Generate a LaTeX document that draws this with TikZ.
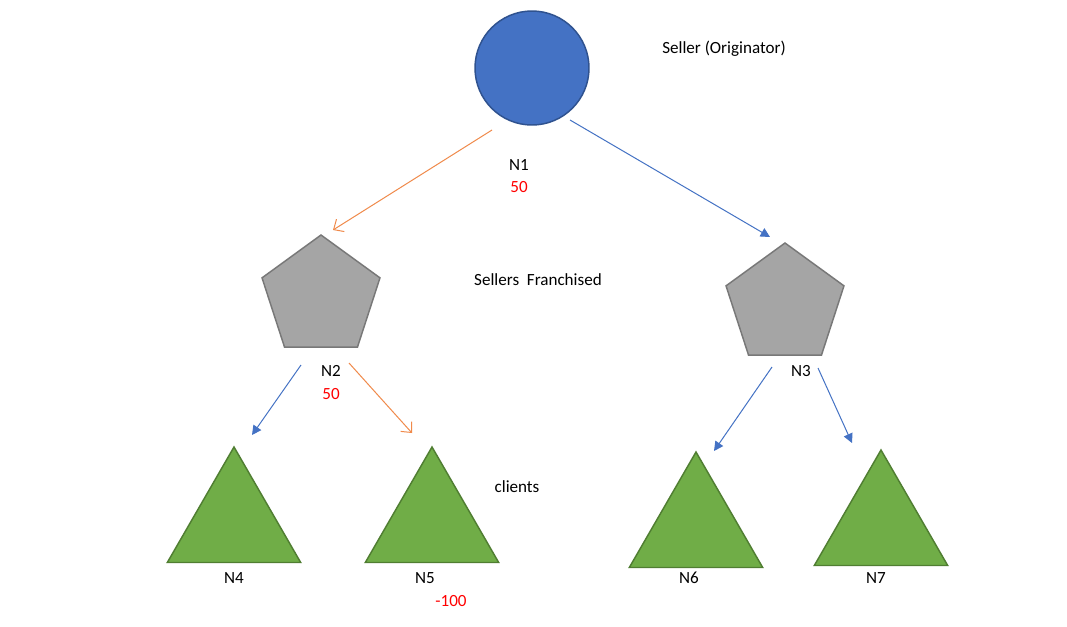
\documentclass[tikz,border=0pt]{standalone}
\usepackage{fontspec}
\setmainfont{Carlito}
\usetikzlibrary{shapes.geometric,arrows.meta}
\definecolor{cblue}{HTML}{4472C4}
\definecolor{cbluedark}{HTML}{2F528F}
\definecolor{cgray}{HTML}{A5A5A5}
\definecolor{cgraydark}{HTML}{787878}
\definecolor{cgreen}{HTML}{70AD47}
\definecolor{cgreendark}{HTML}{507E32}
\definecolor{corange}{HTML}{F08A4B}
\begin{document}
\begin{tikzpicture}[x=0.75pt,y=-0.75pt,
  every node/.style={font=\fontsize{12.8}{15}\selectfont, inner sep=0pt},
  seller/.style={circle, fill=cblue, draw=cbluedark, line width=1.1pt, minimum size=85.5pt},
  franch/.style={regular polygon, regular polygon sides=5, fill=cgray, draw=cgraydark, line width=1.1pt, minimum size=93pt},
  client/.style={regular polygon, regular polygon sides=3, fill=cgreen, draw=cgreendark, line width=1.1pt, minimum size=115.5pt},
  oarrow/.style={draw=corange, line width=0.75pt, -{Straight Barb[length=6pt,width=11pt]}},
  barrow/.style={draw=cblue, line width=0.75pt, -{Triangle[length=7pt,width=7pt]}},
  lbl/.style={text=black},
  val/.style={text=red}]
\useasboundingbox (0,0) rectangle (1067,626);
\fill[white] (0,0) rectangle (1067,626);

\node[seller] (n1) at (532,68) {};
\node[franch] (n2) at (321,297) {};
\node[franch] (n3) at (785,305) {};
\node[client] (n4) at (234,524) {};
\node[client] (n5) at (432,524) {};
\node[client] (n6) at (696,529) {};
\node[client] (n7) at (881,527) {};

\coordinate (a1s) at (492,130); \coordinate (a1e) at (333,230);
\coordinate (a2s) at (570,120); \coordinate (a2e) at (770,237);
\coordinate (a3s) at (301,365); \coordinate (a3e) at (252,435);
\coordinate (a4s) at (349,363); \coordinate (a4e) at (412,433);
\coordinate (a5s) at (772,367); \coordinate (a5e) at (714,451);
\coordinate (a6s) at (818,368); \coordinate (a6e) at (852,443);

\draw[oarrow] (a1s) -- (a1e);
\draw[barrow] (a2s) -- (a2e);
\draw[barrow] (a3s) -- (a3e);
\draw[oarrow] (a4s) -- (a4e);
\draw[barrow] (a5s) -- (a5e);
\draw[barrow] (a6s) -- (a6e);

\node[lbl] (t1) at (724,49) {Seller (Originator)};
\node[lbl] (l1) at (519,165) {N1};
\node[val] (v1) at (519,187) {50};
\node[lbl] (t2) at (538,280) {Sellers\ \ Franchised};
\node[lbl] (l2) at (331,371) {N2};
\node[val] (v2) at (331,394) {50};
\node[lbl] (l3) at (801,371) {N3};
\node[lbl] (t3) at (517,487) {clients};
\node[lbl] (l4) at (234,578) {N4};
\node[lbl] (l5) at (425,578) {N5};
\node[val] (v5) at (451,601) {-100};
\node[lbl] (l6) at (689,578) {N6};
\node[lbl] (l7) at (876,578) {N7};
\end{tikzpicture}
\end{document}
